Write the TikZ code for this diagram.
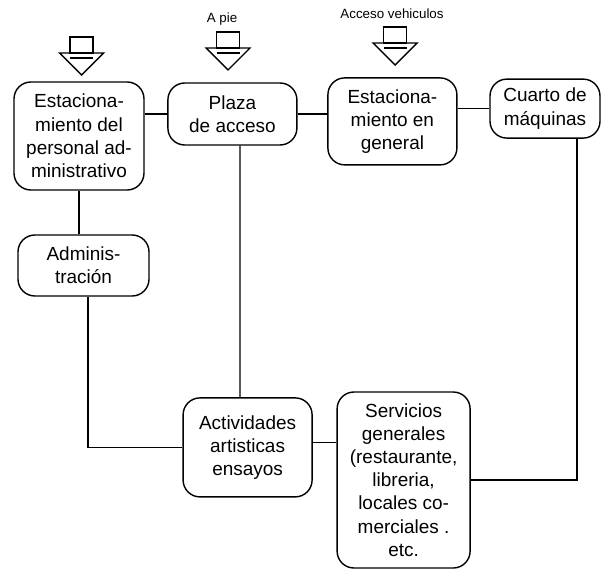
\documentclass[tikz,border=0pt]{standalone}
\usepackage{fontspec}
\setmainfont{Liberation Sans}
\begin{document}
\begin{tikzpicture}[line width=1pt,
  box/.style={draw, rounded corners=12pt, align=center, inner sep=2pt, font=\fontsize{13.5}{16.5}\selectfont},
  lbl/.style={font=\fontsize{9.5}{11}\selectfont}]
  \useasboundingbox (0,0) rectangle (15.05,14.425);
  % 상자
  \node[box, minimum width=3.25cm, minimum height=2.7cm] (EP) at (1.975,11.025) {Estaciona-\\miento del\\personal ad-\\ministrativo};
  \node[box, minimum width=3.225cm, minimum height=1.55cm] (PA) at (5.81,11.575) {Plaza\\de acceso};
  \node[box, minimum width=3.225cm, minimum height=2.175cm] (EG) at (9.81,11.39) {Estaciona-\\miento en\\general};
  \node[box, minimum width=2.75cm, minimum height=1.475cm] (CM) at (13.625,11.71) {Cuarto de\\máquinas};
  \node[box, minimum width=3.275cm, minimum height=1.525cm] (AD) at (2.0875,7.7875) {Adminis-\\tración};
  \node[box, minimum width=3.225cm, minimum height=2.475cm] (AA) at (6.19,3.24) {Actividades\\artisticas\\ensayos};
  \node[box, minimum width=3.325cm, minimum height=4.4cm] (SG) at (10.09,2.425) {Servicios\\generales\\(restaurante,\\libreria,\\locales co-\\merciales .\\etc.};
  % 연결선
  \draw (PA.west) -- (PA.west -| EP.east);
  \draw (PA.east) -- (PA.east -| EG.west);
  \draw (CM.west) -- (CM.west -| EG.east);
  \draw (EP.south) -- (EP.south |- AD.north);
  \draw ([xshift=0.19cm]PA.south) -- ([xshift=-0.19cm]AA.north);
  \draw ([xshift=0.11cm]AD.south) |- (AA.west);
  \draw ([yshift=0.13cm]AA.east) -- ([yshift=0.13cm]AA.east -| SG.west);
  \draw ([xshift=0.8cm]CM.south) |- (SG.east);
  % 진입 표시
  \foreach \x/\y in {2.04/13.1, 5.7/13.225, 9.875/13.35}{
    \draw (\x-0.2875,\y) rectangle (\x+0.2875,\y+0.4);
    \draw (\x-0.55,\y) -- (\x+0.55,\y) -- (\x,\y-0.55) -- cycle;
    \draw (\x-0.2875,\y-0.125) -- (\x+0.2875,\y-0.125);
  }
  \node[lbl] (pie) at (5.55,13.95) {A pie};
  \node[lbl] (veh) at (9.8,14.075) {Acceso vehiculos};
\end{tikzpicture}
\end{document}
